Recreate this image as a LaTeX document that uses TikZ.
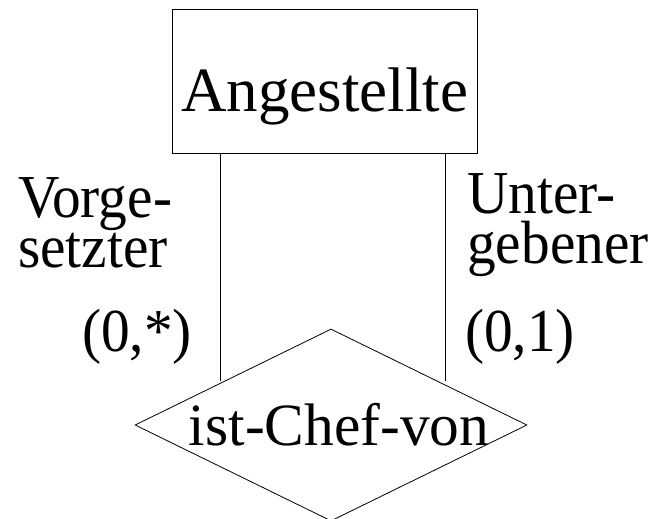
\documentclass[tikz,border=0pt]{standalone}
\usepackage{fontspec}
\setmainfont{Liberation Serif}
\newfontfamily\roleserif[FakeStretch=0.94]{Liberation Serif}
\newfontfamily\relserif[FakeStretch=0.99]{Liberation Serif}
\usetikzlibrary{shapes.geometric}

\tikzset{
  erfont/.style={font=\roleserif\fontsize{61}{50}\selectfont},
  entity/.style={draw, thick, rectangle, inner sep=0pt, minimum width=305pt, minimum height=144pt,
    text height=62pt, text depth=0pt, font=\fontsize{63}{63}\selectfont},
  relship/.style={draw, thick, diamond, inner sep=0pt, minimum width=392pt, minimum height=192pt},
  role/.style={inner sep=0pt, anchor=base west, align=left, erfont}
}

\begin{document}
\begin{tikzpicture}[x=1pt,y=-1pt]
\useasboundingbox (0,0) rectangle (654,519);

\node [entity] (ang) at (324.5,81) {Angestellte};
\node [relship, label={[font=\relserif\fontsize{60}{60}\selectfont, xshift=8pt]center:ist-Chef-von}] (chef) at (331,425) {};

\coordinate (vl) at (220,381);
\coordinate (vr) at (445,381);
\draw [thick] (ang.south -| vl) -- (vl);
\draw [thick] (ang.south -| vr) -- (vr);

\node [role] (vorge) at (18,267) {Vorge-\\setzter};
\node [role] (cvor) at (82,351) {(0,*)};

\node [role] (unter) at (467,263) {Unter-\\gebener};
\node [role] (cunt) at (465,351) {(0,1)};
\end{tikzpicture}
\end{document}
